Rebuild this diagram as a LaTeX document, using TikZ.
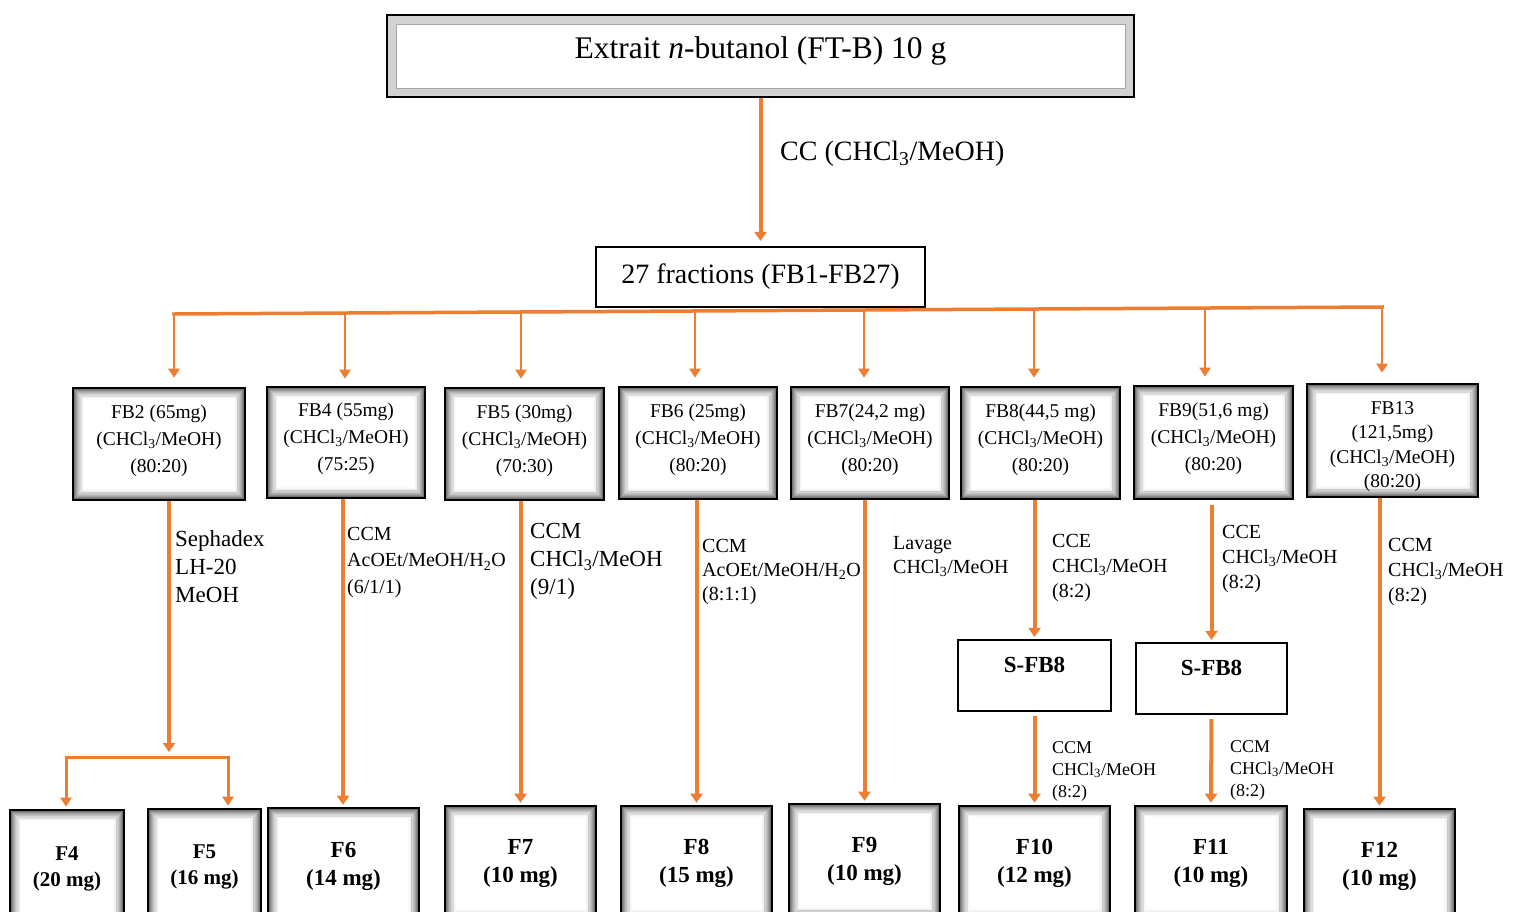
\documentclass[tikz,border=0pt]{standalone}
\usepackage{fontspec}
\setmainfont{Liberation Serif}
\usetikzlibrary{arrows.meta}
\definecolor{org}{HTML}{ED7D31}
\newcommand{\fsz}[2]{\fontsize{#1}{#2}\selectfont}
\begin{document}
\begin{tikzpicture}[x=1pt,y=-1pt,
  shbox/.style={draw=black, line width=2.6pt, fill=white, inner sep=0pt, align=center,
    path picture={
      \foreach \k/\o in {0/0.55,1/0.45,2/0.37,3/0.3,4/0.24,5/0.18,6/0.13,7/0.09,8/0.06,9/0.035,10/0.02}{
        \draw[black, opacity=\o, line width=0.95pt]
          ([shift={({1.7pt+\k*0.9pt},{-1.7pt-\k*0.9pt})}]path picture bounding box.north west) rectangle
          ([shift={({-1.7pt-\k*0.9pt},{1.7pt+\k*0.9pt})}]path picture bounding box.south east);
      }}},
  topbox/.style={draw=black, line width=2.5pt, fill=gray!35, inner sep=0pt,
    path picture={
      \fill[white] ([shift={(9pt,-9pt)}]path picture bounding box.north west) rectangle
                   ([shift={(-9pt,9pt)}]path picture bounding box.south east);
      \draw[gray!70, line width=1pt] ([shift={(9pt,-9pt)}]path picture bounding box.north west) rectangle
                   ([shift={(-9pt,9pt)}]path picture bounding box.south east);
    }},
  plainbox/.style={draw=black, line width=2.2pt, fill=white, inner sep=0pt},
  arr/.style={draw=org, line width=4pt, shorten >=2pt, -{Triangle[width=12pt,length=9pt]}},
  thinarr/.style={draw=org, line width=2.6pt, shorten >=2pt, -{Triangle[width=11pt,length=9pt]}},
  lbl/.style={anchor=north west, align=left, inner sep=0pt},
  fbl/.style={align=center, inner sep=0pt, font={\fsz{19.5}{27}}, yshift=3.5pt},
  ftxt/.style={font={\bfseries\fsz{23}{28}}},
]
\useasboundingbox (0,0) rectangle (1513,911);
\clip (0,0) rectangle (1513,911);

% top box
\node[topbox, minimum width=747pt, text height=43pt, text depth=39pt] (top) at (760.5,56)
  {\fsz{31.5}{36}Extrait \textit{n}-butanol (FT-B) 10 g};
\node[anchor=west, inner sep=0pt] (cc) at (780,154) {\fsz{28}{34}CC (CHCl\textsubscript{3}/MeOH)};
\node[plainbox, minimum width=329pt, minimum height=60pt] (f27) at (760.5,277)
  {\fsz{28}{34}27 fractions (FB1-FB27)};
\draw[arr, shorten >=5pt] (top.south) -- (f27.north);

% second row
\node[shbox, minimum width=172pt, minimum height=112pt,
  label={[fbl]center:{FB2 (65mg)\\(CHCl\textsubscript{3}/MeOH)\\(80:20)}}] (fb2) at (159,444) {};
\node[shbox, minimum width=158pt, minimum height=111pt,
  label={[fbl]center:{FB4 (55mg)\\(CHCl\textsubscript{3}/MeOH)\\(75:25)}}] (fb4) at (346,442.5) {};
\node[shbox, minimum width=159pt, minimum height=112pt,
  label={[fbl]center:{FB5 (30mg)\\(CHCl\textsubscript{3}/MeOH)\\(70:30)}}] (fb5) at (524.5,444) {};
\node[shbox, minimum width=158pt, minimum height=112pt,
  label={[fbl]center:{FB6 (25mg)\\(CHCl\textsubscript{3}/MeOH)\\(80:20)}}] (fb6) at (698,443) {};
\node[shbox, minimum width=158pt, minimum height=112pt,
  label={[fbl]center:{FB7(24,2 mg)\\(CHCl\textsubscript{3}/MeOH)\\(80:20)}}] (fb7) at (870,443) {};
\node[shbox, minimum width=159pt, minimum height=112pt,
  label={[fbl]center:{FB8(44,5 mg)\\(CHCl\textsubscript{3}/MeOH)\\(80:20)}}] (fb8) at (1040.5,443) {};
\node[shbox, minimum width=159pt, minimum height=113pt,
  label={[fbl]center:{FB9(51,6 mg)\\(CHCl\textsubscript{3}/MeOH)\\(80:20)}}] (fb9) at (1213.5,442.5) {};
\node[shbox, minimum width=171pt, minimum height=113pt,
  label={[fbl, font={\fsz{19.5}{24.5}}, yshift=-9.5pt]center:{FB13\\(121,5mg)\\(CHCl\textsubscript{3}/MeOH)\\(80:20)}}] (fb13) at (1392.5,440.5) {};

% distribution line
\coordinate (d1) at (174,314);
\coordinate (d2) at (345,313);
\coordinate (d3) at (521,312);
\coordinate (d4) at (695,311);
\coordinate (d5) at (864,310);
\coordinate (d6) at (1034,309);
\coordinate (d7) at (1205,308);
\coordinate (d8) at (1382,307);
\draw[org, line width=3.5pt, line cap=rect] (d1) -- (d8);
\draw[thinarr, shorten >=9pt] (d1) -- (d1 |- fb2.north);
\draw[thinarr, shorten >=7pt] (d2) -- (d2 |- fb4.north);
\draw[thinarr, shorten >=8pt] (d3) -- (d3 |- fb5.north);
\draw[thinarr, shorten >=8pt] (d4) -- (d4 |- fb6.north);
\draw[thinarr, shorten >=8pt] (d5) -- (d5 |- fb7.north);
\draw[thinarr, shorten >=8pt] (d6) -- (d6 |- fb8.north);
\draw[thinarr, shorten >=8pt] (d7) -- (d7 |- fb9.north);
\draw[thinarr, shorten >=10pt] (d8) -- (d8 |- fb13.north);

% S-FB8 boxes
\node[plainbox, minimum width=153pt, text height=32.6pt, text depth=38.4pt, font={\bfseries\fsz{23}{28}}] (sfa) at (1034.5,675.5) {S-FB8};
\node[plainbox, minimum width=151pt, text height=32.6pt, text depth=38.4pt, font={\bfseries\fsz{23}{28}}] (sfb) at (1211.5,678.5) {S-FB8};

% bottom row
\node[shbox, font={\bfseries\fsz{21}{26}}, minimum width=114pt, minimum height=117pt] (f4) at (67,868.5) {F4\\(20 mg)};
\node[shbox, font={\bfseries\fsz{21}{26}}, minimum width=113pt, minimum height=116pt] (f5) at (204.5,867) {F5\\(16 mg)};
\node[shbox, ftxt, minimum width=151pt, minimum height=116pt] (f6) at (343.5,866) {F6\\(14 mg)};
\node[shbox, ftxt, minimum width=151pt, minimum height=114pt] (f7) at (520.5,863) {F7\\(10 mg)};
\node[shbox, ftxt, minimum width=151pt, minimum height=114pt] (f8) at (696.5,863) {F8\\(15 mg)};
\node[shbox, ftxt, minimum width=151pt, minimum height=114pt] (f9) at (864.5,861) {F9\\(10 mg)};
\node[shbox, ftxt, minimum width=151pt, minimum height=114pt] (f10) at (1034.5,863) {F10\\(12 mg)};
\node[shbox, ftxt, minimum width=152pt, minimum height=114pt] (f11) at (1211,863) {F11\\(10 mg)};
\node[shbox, ftxt, minimum width=151pt, minimum height=114pt] (f12) at (1379.5,866) {F12\\(10 mg)};

% FB2 split
\coordinate (s2) at (169,757);
\coordinate (bl) at (66,757);
\coordinate (br) at (228,757);
\draw[arr, shorten >=5pt] (fb2.south -| s2) -- (s2);
\draw[org, line width=3pt, line cap=rect] (bl) -- (br);
\draw[thinarr, line width=3pt] (bl) -- (bl |- f4.north);
\draw[thinarr, line width=3pt] (br) -- (br |- f5.north);

% vertical arrows
\draw[arr] ([xshift=-3pt]fb4.south) -- ([xshift=-3pt]fb4.south |- f6.north);
\draw[arr] (f7.north |- fb5.south) -- (f7.north);
\draw[arr] (f8.north |- fb6.south) -- (f8.north);
\draw[arr] (f9.north |- fb7.south) -- (f9.north);
\draw[arr] (sfa.north |- fb8.south) -- (sfa.north);
\draw[arr, shorten <=5pt] (sfb.north |- fb9.south) -- (sfb.north);
\draw[arr, shorten <=4pt] (sfa.south) -- (f10.north);
\draw[arr, shorten <=4pt] (sfb.south) -- (f11.north);
\draw[arr] (f12.north |- fb13.south) -- (f12.north);

% labels
\node[lbl, font={\fsz{23}{28}}] (l2) at (175,530) {Sephadex\\LH-20\\MeOH};
\node[lbl, font={\fsz{20}{26.5}}] (l4) at (347,527) {CCM\\AcOEt/MeOH/H\textsubscript{2}O\\(6/1/1)};
\node[lbl, font={\fsz{23}{28}}] (l5) at (530,523) {CCM\\CHCl\textsubscript{3}/MeOH\\(9/1)};
\node[lbl, font={\fsz{20}{24}}] (l6) at (702,539) {CCM\\AcOEt/MeOH/H\textsubscript{2}O\\(8:1:1)};
\node[lbl, font={\fsz{20}{24}}] (l7) at (893,536) {Lavage\\CHCl\textsubscript{3}/MeOH};
\node[lbl, font={\fsz{20}{25}}] (l8) at (1052,534) {CCE\\CHCl\textsubscript{3}/MeOH\\(8:2)};
\node[lbl, font={\fsz{20}{25}}] (l9) at (1222,525) {CCE\\CHCl\textsubscript{3}/MeOH\\(8:2)};
\node[lbl, font={\fsz{20}{25}}] (l13) at (1388,538) {CCM\\CHCl\textsubscript{3}/MeOH\\(8:2)};
\node[lbl, font={\fsz{18}{22}}] (la) at (1052,741) {CCM\\CHCl\textsubscript{3}/MeOH\\(8:2)};
\node[lbl, font={\fsz{18}{22}}] (lb) at (1230,740) {CCM\\CHCl\textsubscript{3}/MeOH\\(8:2)};
\end{tikzpicture}
\end{document}
